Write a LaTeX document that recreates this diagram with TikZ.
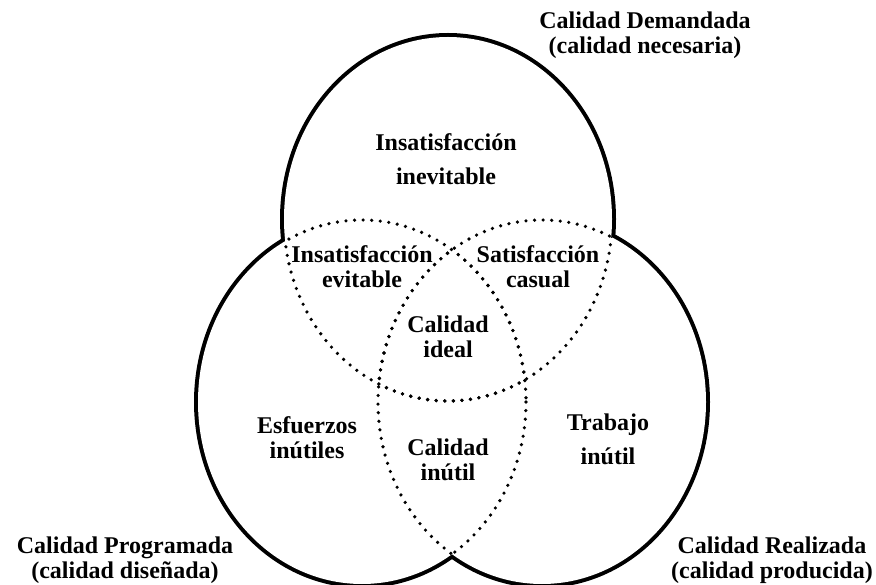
\documentclass[tikz,border=0pt]{standalone}
\usepackage{fontspec}
\setmainfont{Liberation Serif}
\begin{document}
\begin{tikzpicture}[x=1pt,y=-1pt,
    lbl/.style={font=\bfseries\fontsize{24}{25}\selectfont,align=center,inner sep=0pt},
    rim/.style={line width=8pt},
    dots/.style={line width=3.6pt,line cap=round,dash pattern=on 0pt off 8.6pt},
    oval/.style={x radius=164,y radius=182}]
  \useasboundingbox (0,0) rectangle (876,585);
  \coordinate (D) at (448,219);
  \coordinate (P) at (362,402);
  \coordinate (R) at (542,402);
  % outer rim, inner half covered below
  \draw[rim] (D) ellipse [oval];
  \draw[rim] (P) ellipse [oval];
  \draw[rim] (R) ellipse [oval];
  \fill[white] (D) ellipse [oval];
  \fill[white] (P) ellipse [oval];
  \fill[white] (R) ellipse [oval];
  % dotted arcs inside the other sets
  \begin{scope}
    \clip (P) ellipse [oval];
    \draw[dots] (D) ellipse [oval];
    \draw[dots] (R) ellipse [oval];
  \end{scope}
  \begin{scope}
    \clip (R) ellipse [oval];
    \draw[dots] (D) ellipse [oval];
    \draw[dots] (P) ellipse [oval];
  \end{scope}
  \begin{scope}
    \clip (D) ellipse [oval];
    \draw[dots] (P) ellipse [oval];
    \draw[dots] (R) ellipse [oval];
  \end{scope}
  % labels
  \node[lbl] (dem) at (645,35) {Calidad Demandada\\(calidad necesaria)};
  \node[lbl] (prog) at (125,560) {Calidad Programada\\(calidad diseñada)};
  \node[lbl] (real) at (772,560) {Calidad Realizada\\(calidad producida)};
  \node[lbl] (inev) at (446,159) {Insatisfacción\\[9pt]inevitable};
  \node[lbl] (evit) at (362,267) {Insatisfacción\\evitable};
  \node[lbl] (casual) at (538,267) {Satisfacción\\casual};
  \node[lbl] (ideal) at (448,337) {Calidad\\ideal};
  \node[lbl] (esf) at (307,438) {Esfuerzos\\inútiles};
  \node[lbl] (inutil) at (448,460) {Calidad\\inútil};
  \node[lbl] (trab) at (608,439) {Trabajo\\[9pt]inútil};
\end{tikzpicture}
\end{document}
